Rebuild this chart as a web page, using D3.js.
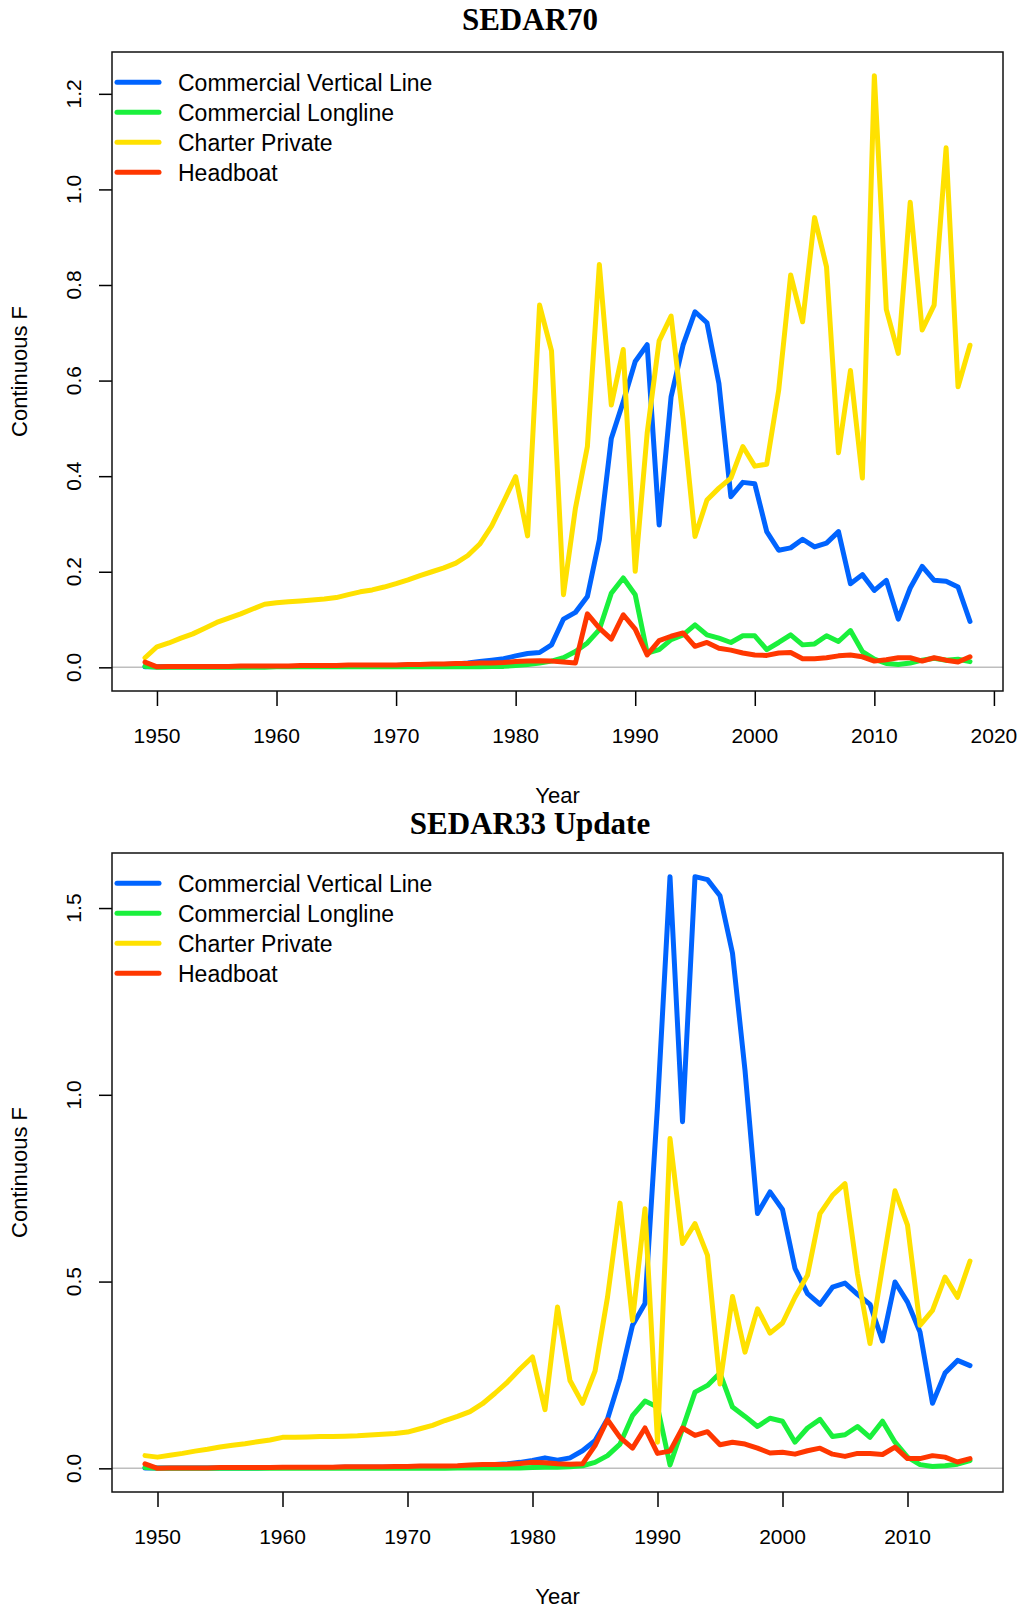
<!DOCTYPE html>
<html>
<head>
<meta charset="utf-8">
<script src="https://cdn.jsdelivr.net/npm/d3@7"></script>
<style>
	body { margin: 0; background: #fff; }
	svg { display: block; }
	text { font-family: "Liberation Sans", Arial, sans-serif; fill: #000; }
	.title { font-family: "Liberation Serif", "Times New Roman", serif; font-weight: bold; font-size: 31px; }
</style>
</head>
<body>
<script>
/* Continuous F by fleet, two stock assessments stacked */

var seriesNames = ["Commercial Vertical Line", "Commercial Longline", "Charter Private", "Headboat"];
var seriesColors = ["#0064ff", "#1af03c", "#ffe100", "#ff3700"];

// SEDAR70, 1949-2018
var yearsTop = d3.range(1949, 2019);
var cvlTop = [0.001,0.001,0.001,0.001,0.001,0.001,0.001,0.001,0.001,0.002,0.002,
	0.002,0.002,0.002,0.003,0.003,0.003,0.003,0.003,0.004,0.004,
	0.004,0.005,0.005,0.005,0.006,0.007,0.009,0.012,0.015,0.018,
	0.024,0.029,0.031,0.047,0.101,0.115,0.148,0.267,0.479,0.556,
	0.640,0.675,0.298,0.566,0.674,0.744,0.721,0.594,0.357,0.387,
	0.384,0.284,0.245,0.250,0.268,0.252,0.260,0.284,0.175,0.194,
	0.161,0.182,0.101,0.166,0.211,0.182,0.180,0.168,0.096];
var cllTop = [0.002,0.000,0.000,0.000,0.000,0.000,0.000,0.000,0.000,0.000,0.000,
	0.001,0.001,0.001,0.001,0.001,0.001,0.001,0.001,0.001,0.001,
	0.001,0.001,0.001,0.001,0.001,0.001,0.001,0.001,0.002,0.002,
	0.004,0.006,0.009,0.013,0.020,0.033,0.051,0.079,0.155,0.187,
	0.152,0.030,0.037,0.058,0.068,0.089,0.068,0.061,0.052,0.066,
	0.066,0.037,0.052,0.068,0.047,0.049,0.066,0.054,0.077,0.033,
	0.017,0.008,0.006,0.009,0.015,0.019,0.015,0.017,0.012];
var cpTop = [0.020,0.043,0.051,0.061,0.070,0.082,0.094,0.103,0.112,0.122,0.132,
	0.135,0.137,0.139,0.141,0.143,0.146,0.152,0.158,0.162,0.168,
	0.175,0.183,0.192,0.200,0.208,0.218,0.234,0.258,0.296,0.347,
	0.399,0.275,0.758,0.662,0.152,0.333,0.462,0.843,0.549,0.665,
	0.201,0.490,0.683,0.735,0.520,0.274,0.350,0.375,0.396,0.462,
	0.421,0.425,0.580,0.821,0.723,0.941,0.838,0.449,0.621,0.396,
	1.238,0.749,0.657,0.973,0.706,0.758,1.087,0.587,0.674];
var hbTop = [0.011,0.001,0.002,0.002,0.002,0.002,0.002,0.002,0.003,0.003,0.003,
	0.003,0.003,0.004,0.004,0.004,0.004,0.005,0.005,0.005,0.005,
	0.005,0.006,0.006,0.007,0.007,0.008,0.008,0.009,0.009,0.010,
	0.012,0.013,0.014,0.013,0.011,0.009,0.112,0.082,0.059,0.110,
	0.080,0.026,0.056,0.065,0.072,0.044,0.052,0.040,0.036,0.030,
	0.026,0.025,0.030,0.031,0.018,0.018,0.020,0.024,0.026,0.022,
	0.013,0.016,0.020,0.020,0.013,0.020,0.015,0.011,0.022];
var xTicksTop = [1950, 1960, 1970, 1980, 1990, 2000, 2010, 2020];
var yTicksTop = [0, 0.2, 0.4, 0.6, 0.8, 1.0, 1.2];

// SEDAR33 Update, 1949-2015
var yearsBot = d3.range(1949, 2016);
var cvlBot = [0.001,0.001,0.001,0.001,0.001,0.001,0.001,0.001,0.001,0.001,0.002,
	0.002,0.002,0.002,0.002,0.002,0.003,0.003,0.003,0.003,0.003,
	0.004,0.004,0.004,0.005,0.005,0.006,0.008,0.010,0.012,0.016,
	0.021,0.028,0.022,0.028,0.047,0.074,0.132,0.240,0.383,0.441,
	0.970,1.584,0.928,1.584,1.576,1.533,1.379,1.066,0.682,0.740,
	0.693,0.535,0.468,0.439,0.485,0.496,0.466,0.439,0.341,0.499,
	0.445,0.365,0.174,0.255,0.289,0.275];
var cllBot = [0.002,0.000,0.000,0.000,0.000,0.000,0.000,0.000,0.000,0.000,0.000,
	0.000,0.000,0.000,0.000,0.000,0.000,0.000,0.000,0.000,0.000,
	0.000,0.000,0.000,0.000,0.001,0.001,0.001,0.001,0.001,0.001,
	0.002,0.003,0.003,0.004,0.007,0.016,0.034,0.065,0.141,0.180,
	0.164,0.009,0.106,0.204,0.222,0.255,0.164,0.139,0.112,0.134,
	0.126,0.070,0.108,0.131,0.085,0.090,0.112,0.083,0.126,0.070,
	0.030,0.010,0.005,0.007,0.011,0.021];
var cpBot = [0.034,0.030,0.035,0.040,0.046,0.051,0.057,0.062,0.066,0.071,0.076,
	0.083,0.083,0.084,0.085,0.085,0.086,0.087,0.089,0.091,0.093,
	0.097,0.106,0.115,0.128,0.139,0.152,0.173,0.201,0.231,0.266,
	0.298,0.157,0.432,0.235,0.174,0.260,0.458,0.710,0.396,0.695,
	0.070,0.883,0.602,0.655,0.570,0.226,0.460,0.311,0.427,0.362,
	0.389,0.458,0.517,0.682,0.731,0.762,0.520,0.334,0.540,0.743,
	0.651,0.383,0.423,0.512,0.458,0.555];
var hbBot = [0.012,0.000,0.001,0.001,0.001,0.001,0.002,0.002,0.002,0.002,0.002,
	0.003,0.003,0.003,0.003,0.003,0.004,0.004,0.004,0.004,0.005,
	0.005,0.006,0.006,0.006,0.007,0.009,0.010,0.010,0.011,0.013,
	0.016,0.015,0.012,0.011,0.012,0.061,0.130,0.083,0.054,0.108,
	0.040,0.046,0.108,0.088,0.098,0.063,0.070,0.065,0.054,0.041,
	0.043,0.038,0.047,0.054,0.038,0.032,0.040,0.040,0.037,0.057,
	0.026,0.026,0.034,0.030,0.017,0.026];
var xTicksBot = [1950, 1960, 1970, 1980, 1990, 2000, 2010];
var yTicksBot = [0, 0.5, 1.0, 1.5];

var svg = d3.select("body").append("svg")
	.attr("width", 1021)
	.attr("height", 1610);

// R-style range: data extent padded by 4% on each side
function padded(ext) {
	var d = (ext[1] - ext[0]) * 0.04;
	return [ext[0] - d, ext[1] + d];
}

function drawPanel(opts) {
	var left = 112, right = 1003,
		top = opts.top, bottom = opts.top + 639;

	var allVals = d3.merge(opts.series);
	var x = d3.scaleLinear().domain(padded(d3.extent(opts.years))).range([left, right]);
	var y = d3.scaleLinear().domain(padded(d3.extent(allVals))).range([bottom, top]);

	var g = svg.append("g");

	// title sits a little left of the plot centre, like the original
	g.append("text")
		.attr("class", "title")
		.attr("x", 530)
		.attr("y", top - opts.titleGap)
		.style("text-anchor", "middle")
		.text(opts.title);

	// zero reference line
	g.append("line")
		.attr("x1", left).attr("x2", right)
		.attr("y1", y(0)).attr("y2", y(0))
		.style("stroke", "#bebebe")
		.style("stroke-width", 1.5);

	var line = d3.line()
		.x(function(d, i) { return x(opts.years[i]); })
		.y(function(d) { return y(d); });

	opts.series.forEach(function(s, i) {
		g.append("path")
			.datum(s)
			.attr("d", line)
			.style("fill", "none")
			.style("stroke", seriesColors[i])
			.style("stroke-width", 5)
			.style("stroke-linejoin", "round")
			.style("stroke-linecap", "round");
	});

	// axes: tick marks via d3, labels drawn R-style
	var xAxis = d3.axisBottom(x).tickValues(opts.xTicks).tickSize(15).tickFormat("");
	g.append("g")
		.attr("transform", "translate(0," + bottom + ")")
		.call(xAxis)
		.call(function(a) {
			a.select(".domain").remove();
			a.selectAll("line").style("stroke", "#000").style("stroke-width", 1.5);
		});
	g.selectAll(".xlab")
		.data(opts.xTicks)
		.enter().append("text")
			.attr("class", "xlab")
			.attr("x", function(d) { return x(d); })
			.attr("y", bottom + 52)
			.style("text-anchor", "middle")
			.style("font-size", "21px")
			.text(function(d) { return d; });

	var yAxis = d3.axisLeft(y).tickValues(opts.yTicks).tickSize(13).tickFormat("");
	g.append("g")
		.attr("transform", "translate(" + left + ",0)")
		.call(yAxis)
		.call(function(a) {
			a.select(".domain").remove();
			a.selectAll("line").style("stroke", "#000").style("stroke-width", 1.5);
		});
	g.selectAll(".ylab")
		.data(opts.yTicks)
		.enter().append("text")
			.attr("class", "ylab")
			.attr("transform", function(d) { return "translate(81," + y(d) + ") rotate(-90)"; })
			.style("text-anchor", "middle")
			.style("font-size", "21px")
			.text(d3.format(".1f"));

	// box round plot region
	g.append("rect")
		.attr("x", left).attr("y", top)
		.attr("width", right - left).attr("height", bottom - top)
		.style("fill", "none")
		.style("stroke", "#111")
		.style("stroke-width", 1.5);

	g.append("text")
		.attr("x", (left + right) / 2)
		.attr("y", bottom + 112)
		.style("text-anchor", "middle")
		.style("font-size", "22px")
		.text("Year");
	g.append("text")
		.attr("transform", "translate(27," + (top + bottom) / 2 + ") rotate(-90)")
		.style("text-anchor", "middle")
		.style("font-size", "22px")
		.text("Continuous F");

	// legend, top left inside the box
	var legend = g.selectAll(".legend")
		.data(seriesNames)
		.enter().append("g")
			.attr("class", "legend")
			.attr("transform", function(d, i) {
				return "translate(0," + (top + 30.3 + i * 30) + ")";
			});
	legend.append("line")
		.attr("x1", 117).attr("x2", 159)
		.style("stroke", function(d, i) { return seriesColors[i]; })
		.style("stroke-width", 5)
		.style("stroke-linecap", "round");
	legend.append("text")
		.attr("x", 178)
		.attr("y", 8.5)
		.style("font-size", "23px")
		.text(function(d) { return d; });
}

drawPanel({
	title: "SEDAR70", top: 52, titleGap: 22.5,
	years: yearsTop, series: [cvlTop, cllTop, cpTop, hbTop],
	xTicks: xTicksTop, yTicks: yTicksTop
});
drawPanel({
	title: "SEDAR33 Update", top: 853, titleGap: 19,
	years: yearsBot, series: [cvlBot, cllBot, cpBot, hbBot],
	xTicks: xTicksBot, yTicks: yTicksBot
});
</script>
</body>
</html>
